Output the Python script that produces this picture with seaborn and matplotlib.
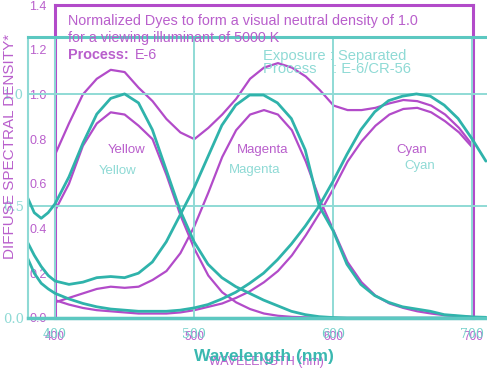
import matplotlib
matplotlib.use('Agg')
import matplotlib.pyplot as plt
import seaborn as sns

# wavelengths (nm)
purple_nm = list(range(400, 701, 10))
teal_nm = [380, 385, 390, 395] + list(range(400, 711, 10))

# purple chart: dye densities + neutral sum
purple_neutral = [0.73, 0.87, 1.00, 1.07, 1.11, 1.10, 1.03, 0.97, 0.89, 0.83, 0.80,
                  0.85, 0.91, 0.98, 1.07, 1.12, 1.14, 1.12, 1.08, 1.02, 0.95,
                  0.93, 0.93, 0.94, 0.96, 0.975, 0.97, 0.95, 0.91, 0.85, 0.77]
purple_yellow = [0.48, 0.60, 0.77, 0.87, 0.92, 0.91, 0.86, 0.80, 0.64, 0.46, 0.31,
                 0.19, 0.115, 0.07, 0.04, 0.02, 0.01, 0.005, 0.003, 0.002, 0,
                 0, 0, 0, 0, 0, 0, 0, 0, 0, 0]
purple_magenta = [0.07, 0.09, 0.11, 0.13, 0.14, 0.135, 0.14, 0.17, 0.21, 0.29, 0.41,
                  0.56, 0.72, 0.84, 0.91, 0.93, 0.91, 0.84, 0.70, 0.53, 0.39,
                  0.25, 0.16, 0.10, 0.065, 0.045, 0.03, 0.02, 0.012, 0.008, 0.005]
purple_cyan = [0.08, 0.06, 0.045, 0.035, 0.03, 0.025, 0.02, 0.02, 0.02, 0.025, 0.035,
               0.05, 0.065, 0.09, 0.12, 0.16, 0.21, 0.28, 0.37, 0.47, 0.58,
               0.70, 0.79, 0.86, 0.91, 0.935, 0.94, 0.92, 0.88, 0.83, 0.76]

# teal chart: normalized dyes
teal_yellow = [0.54, 0.47, 0.445, 0.47,
               0.51, 0.63, 0.78, 0.91, 0.98, 1.0, 0.96, 0.84, 0.66, 0.48, 0.34,
               0.24, 0.18, 0.14, 0.11, 0.08, 0.055, 0.03, 0.015, 0.006, 0.002,
               0, 0, 0, 0, 0, 0, 0, 0, 0, 0, 0]
teal_magenta = [0.34, 0.28, 0.23, 0.19,
                0.165, 0.15, 0.16, 0.18, 0.185, 0.18, 0.20, 0.25, 0.34, 0.46, 0.58,
                0.72, 0.86, 0.95, 0.995, 0.995, 0.96, 0.89, 0.75, 0.50, 0.39,
                0.24, 0.15, 0.10, 0.07, 0.05, 0.04, 0.03, 0.015, 0.01, 0.005, 0.003]
teal_cyan = [0.27, 0.20, 0.155, 0.13,
             0.11, 0.085, 0.065, 0.05, 0.04, 0.035, 0.03, 0.03, 0.03, 0.035, 0.045,
             0.06, 0.085, 0.115, 0.155, 0.20, 0.26, 0.33, 0.41, 0.50, 0.61,
             0.73, 0.84, 0.92, 0.97, 0.99, 1.0, 0.99, 0.95, 0.89, 0.80, 0.70]

PURPLE = '#b24bc9'
PURPLE_TXT = '#b95fcc'
TEAL = '#2fb3ab'
TEAL_MID = '#5cc8c1'
TEAL_LIGHT = '#8fdad5'

sns.set_theme(style='white')
plt.rcParams['font.family'] = ['Liberation Sans', 'DejaVu Sans']

W, H = 487, 370
fig = plt.figure(figsize=(W / 100, H / 100), dpi=100)


def fx(px):
    return px / W


def fy(py):
    return 1 - py / H


# ---- purple chart (underneath)
ax1 = fig.add_axes([fx(55), fy(318), 418 / W, 313 / H])
for vals in [purple_neutral, purple_yellow, purple_magenta, purple_cyan]:
    sns.lineplot(x=purple_nm, y=vals, ax=ax1, color=PURPLE, lw=1.6)
ax1.set_xlim(400, 700)
ax1.set_ylim(0, 1.4)
ax1.set_yticks([0, 0.2, 0.4, 0.6, 0.8, 1.0, 1.2, 1.4])
ax1.set_yticklabels(['0.0', '0.2', '0.4', '0.6', '0.8', '1.0', '1.2', '1.4'])
ax1.set_xticks([400, 500, 600, 700])
ax1.tick_params(axis='y', direction='in', length=3, width=2, color=PURPLE,
                labelcolor=PURPLE_TXT, labelsize=9, pad=6)
ax1.tick_params(axis='x', length=0, labelcolor=PURPLE_TXT, labelsize=8.5, pad=9)
ax1.set_xlabel('')
ax1.set_ylabel('')
for s in ax1.spines.values():
    s.set_color(PURPLE)
    s.set_linewidth(2.2)

fig.text(fx(10), fy(146), 'DIFFUSE SPECTRAL DENSITY*', rotation=90, ha='center',
         va='center', color=PURPLE_TXT, fontsize=11)
fig.text(fx(266), fy(362), 'WAVELENGTH (nm)', ha='center', va='center',
         color=PURPLE_TXT, fontsize=9, zorder=3)
fig.text(fx(68), fy(21), 'Normalized Dyes to form a visual neutral density of 1.0',
         ha='left', va='center', color=PURPLE_TXT, fontsize=10.4)
fig.text(fx(68), fy(38), 'for a viewing illuminant of 5000 K',
         ha='left', va='center', color=PURPLE_TXT, fontsize=10.4)
fig.text(fx(68), fy(55), 'Process:', ha='left', va='center', color=PURPLE_TXT,
         fontsize=10.4, fontweight='bold')
fig.text(fx(135), fy(55), 'E-6', ha='left', va='center', color=PURPLE_TXT, fontsize=10.4)
fig.text(fx(127), fy(150), 'Yellow', ha='center', va='center', color=PURPLE_TXT, fontsize=9.5)
fig.text(fx(263), fy(150), 'Magenta', ha='center', va='center', color=PURPLE_TXT, fontsize=9.5)
fig.text(fx(412), fy(150), 'Cyan', ha='center', va='center', color=PURPLE_TXT, fontsize=9.5)

# ---- teal chart (on top)
ax2 = fig.add_axes([fx(28), fy(318), 459 / W, 281 / H])
ax2.patch.set_alpha(0)
for vals in [teal_yellow, teal_magenta, teal_cyan]:
    sns.lineplot(x=teal_nm, y=vals, ax=ax2, color=TEAL, lw=2.0)
ax2.set_xlim(380.5, 710.8)
ax2.set_ylim(0, 1.254)
ax2.set_xticks([400, 500, 600, 700])
ax2.set_yticks([0, 0.5, 1.0])
ax2.set_yticklabels(['0.0', '0.5', '1.0'])
ax2.grid(True, color=TEAL_LIGHT, lw=1.4)
ax2.tick_params(axis='both', length=0, labelcolor=TEAL_LIGHT, labelsize=9.5)
ax2.tick_params(axis='y', pad=3)
ax2.tick_params(axis='x', pad=7, labelcolor='#72cfc9', labelsize=9)
for lab in ax2.get_xticklabels() + ax2.get_yticklabels():
    lab.set_family('DejaVu Serif')
ax2.set_xlabel('')
ax2.set_ylabel('')
ax2.spines['right'].set_visible(False)
ax2.spines['left'].set_color(TEAL_LIGHT)
ax2.spines['left'].set_linewidth(1.5)
ax2.spines['top'].set_color(TEAL_MID)
ax2.spines['top'].set_linewidth(2.2)
ax2.spines['bottom'].set_color(TEAL_MID)
ax2.spines['bottom'].set_linewidth(2.5)

fig.text(fx(263), fy(56), 'Exposure : Separated', ha='left', va='center',
         color=TEAL_LIGHT, fontsize=10.6)
fig.text(fx(263), fy(69), 'Process    : E-6/CR-56', ha='left', va='center',
         color=TEAL_LIGHT, fontsize=10.6)
fig.text(fx(118), fy(171), 'Yellow', ha='center', va='center', color=TEAL_LIGHT, fontsize=9.5)
fig.text(fx(255), fy(170), 'Magenta', ha='center', va='center', color=TEAL_LIGHT, fontsize=9.5)
fig.text(fx(420), fy(166), 'Cyan', ha='center', va='center', color=TEAL_LIGHT, fontsize=9.5)
fig.text(fx(264), fy(356), 'Wavelength (nm)', ha='center', va='center',
         color='#3ab8b0', fontsize=12.5, fontweight='bold', zorder=4)

fig.savefig('out.png', dpi=100)
